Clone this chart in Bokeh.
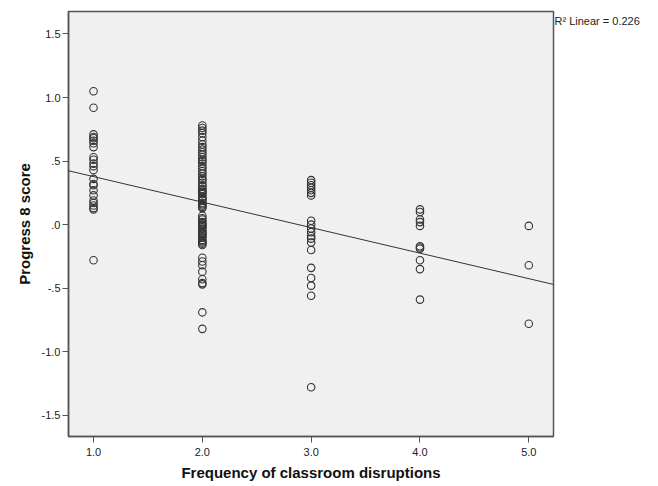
import numpy as np
from bokeh.plotting import figure
from bokeh.models import Range1d, FixedTicker, Slope, LinearAxis
from bokeh.embed import file_html
from bokeh.resources import INLINE

# ---- data ----
freq1 = [1.05, 0.92, 0.71, 0.69, 0.68, 0.66, 0.64, 0.61, 0.53, 0.51, 0.48, 0.46,
         0.43, 0.36, 0.32, 0.31, 0.27, 0.23, 0.19, 0.17, 0.15, 0.13, 0.12, -0.28]
freq2 = [0.78, 0.76, 0.74, 0.72, 0.69, 0.66, 0.63, 0.61, 0.59, 0.57, 0.55, 0.53,
         0.51, 0.50, 0.48, 0.46, 0.44, 0.42, 0.40, 0.38, 0.36, 0.35, 0.33, 0.31,
         0.30, 0.28, 0.27, 0.26, 0.25, 0.24, 0.22, 0.21, 0.20, 0.19, 0.17, 0.16,
         0.15, 0.14, 0.13, 0.07, 0.05, 0.04, 0.02, 0.01, 0.00, -0.01, -0.02,
         -0.03, -0.05, -0.06, -0.07, -0.08, -0.09, -0.10, -0.12, -0.13, -0.14,
         -0.15, -0.16, -0.26, -0.29, -0.32, -0.37, -0.43, -0.46, -0.47, -0.69, -0.82]
freq3 = [0.35, 0.33, 0.31, 0.29, 0.27, 0.25, 0.23, 0.03, 0.00, -0.03, -0.06,
         -0.09, -0.11, -0.14, -0.20, -0.34, -0.42, -0.48, -0.56, -1.28]
freq4 = [0.12, 0.10, 0.04, 0.02, -0.01, -0.17, -0.18, -0.19, -0.28, -0.35, -0.59]
freq5 = [-0.01, -0.32, -0.78]

groups = [1.0, 2.0, 3.0, 4.0, 5.0]
scores = [freq1, freq2, freq3, freq4, freq5]

x_ticks = [1.0, 2.0, 3.0, 4.0, 5.0]
x_tick_labels = ["1.0", "2.0", "3.0", "4.0", "5.0"]
y_ticks = [-1.5, -1.0, -0.5, 0.0, 0.5, 1.0, 1.5]
y_tick_labels = ["-1.5", "-1.0", "-.5", ".0", ".5", "1.0", "1.5"]
r2_text = "R\u00b2 Linear = 0.226"
r2_pos = 1.606

x_vals = np.concatenate([[g] * len(s) for g, s in zip(groups, scores)])
y_vals = np.concatenate(scores)
slope_fit, intercept_fit = np.polyfit(x_vals, y_vals, 1)

x_lo, x_hi = 0.77, 5.227
y_lo, y_hi = -1.667, 1.677

p = figure(width=653, height=484, output_backend="svg", toolbar_location=None,
           x_range=Range1d(x_lo, x_hi), y_range=Range1d(y_lo, y_hi),
           min_border_left=68, min_border_right=100, min_border_top=11,
           min_border_bottom=48)
p.background_fill_color = "#f0f0f0"
p.border_fill_color = "white"
p.outline_line_color = "#555555"
p.outline_line_width = 1.5
p.grid.visible = False

for ax in (p.xaxis[0], p.yaxis[0]):
    ax.axis_line_color = "#555555"
    ax.axis_line_width = 1.5
    ax.major_tick_line_color = "#555555"
    ax.major_tick_out = 6
    ax.major_tick_in = 0
    ax.minor_tick_line_color = None
    ax.major_label_text_font = "Liberation Sans"
    ax.major_label_text_font_size = "11px"
    ax.major_label_text_color = "#222222"
    ax.axis_label_text_font = "Liberation Sans"
    ax.axis_label_text_font_style = "bold"
    ax.axis_label_text_font_size = "15px"
    ax.axis_label_text_color = "#111111"

p.xaxis.ticker = FixedTicker(ticks=x_ticks)
p.xaxis.major_label_overrides = dict(zip(x_ticks, x_tick_labels))
p.yaxis.ticker = FixedTicker(ticks=y_ticks)
p.yaxis.major_label_overrides = dict(zip(y_ticks, y_tick_labels))
p.xaxis.axis_label = "Frequency of classroom disruptions"
p.yaxis.axis_label = "Progress 8 score"
p.xaxis.major_label_standoff = 5
p.yaxis.major_label_standoff = 2
p.xaxis.axis_label_standoff = 5
p.yaxis.axis_label_standoff = 6

# R-squared note placed just outside the frame on the right
r2_axis = LinearAxis(ticker=FixedTicker(ticks=[r2_pos]),
                     major_label_overrides={r2_pos: r2_text})
r2_axis.axis_line_color = None
r2_axis.major_tick_line_color = None
r2_axis.minor_tick_line_color = None
r2_axis.major_tick_out = 0
r2_axis.major_tick_in = 0
r2_axis.major_label_standoff = 1
r2_axis.major_label_text_font = "Liberation Sans"
r2_axis.major_label_text_font_size = "11px"
r2_axis.major_label_text_color = "#222222"
p.add_layout(r2_axis, "right")

p.add_layout(Slope(gradient=slope_fit, y_intercept=intercept_fit,
                   line_color="#333333", line_width=1))

p.scatter(x_vals, y_vals, marker="circle", size=7.5, fill_color=None,
          line_color="#333333", line_width=1.1)

open("out.html", "w").write(file_html(p, INLINE))
